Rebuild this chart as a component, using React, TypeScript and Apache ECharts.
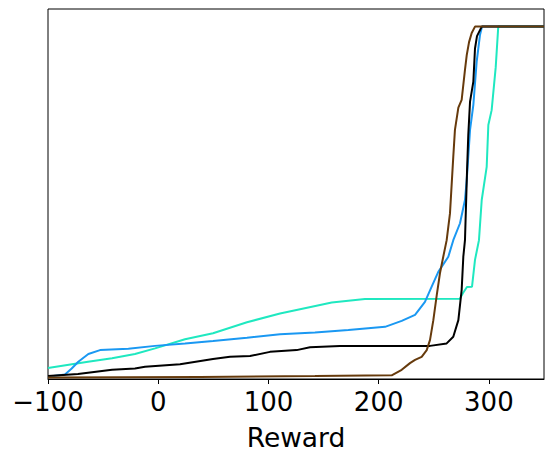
import React, { useEffect, useRef } from "react";
import * as echarts from "echarts";

// Reward values (x) and cumulative fraction (y) for each curve
const cyanX = [-100, -63.7, -41.9, -21.1, -2.9, 24.3, 49.7, 80.5, 110.5, 146.8, 157.4, 187.6, 273.8, 276.5, 280.1, 284.7, 287.4, 289.2, 291, 293.5, 298.0, 299.5, 302.5, 306.2, 308.5, 350];
const cyanY = [0.031, 0.049, 0.059, 0.071, 0.087, 0.113, 0.130, 0.161, 0.186, 0.210, 0.217, 0.227, 0.228, 0.244, 0.261, 0.262, 0.338, 0.366, 0.394, 0.508, 0.602, 0.721, 0.763, 0.885, 1.0, 1.0];

const blueX = [-100, -84.6, -78.5, -72.5, -63.4, -52.8, -27.1, -2.9, 24.3, 49.7, 80.5, 110.5, 142.2, 172.5, 205.8, 220.9, 233.0, 242.0, 248.1, 254.1, 263.2, 267.7, 273.8, 278.3, 279.9, 281.3, 282.9, 285.9, 288.9, 291.9, 293.8, 350];
const blueY = [0.0065, 0.013, 0.030, 0.049, 0.071, 0.082, 0.086, 0.094, 0.101, 0.108, 0.117, 0.127, 0.132, 0.139, 0.148, 0.165, 0.182, 0.219, 0.262, 0.304, 0.347, 0.394, 0.442, 0.508, 0.565, 0.631, 0.707, 0.778, 0.900, 0.976, 1.0, 1.0];

const blackX = [-100, -72.8, -41.9, -21.1, -12.0, 19.8, 49.7, 65.1, 83.3, 101.4, 125.6, 137.7, 164.9, 246.6, 261.7, 267.7, 272.3, 275.3, 276.8, 278.3, 280.2, 281.3, 282.9, 285.9, 287.4, 289.2, 293.5, 350];
const blackY = [0.0085, 0.014, 0.026, 0.030, 0.035, 0.042, 0.057, 0.063, 0.065, 0.077, 0.082, 0.090, 0.094, 0.094, 0.101, 0.120, 0.167, 0.253, 0.347, 0.394, 0.593, 0.692, 0.787, 0.844, 0.938, 0.973, 1.0, 1.0];

const brownX = [-100, 37.9, 142.2, 211.8, 220.9, 228.4, 233.0, 239.0, 243.6, 246.6, 249.6, 252.7, 255.6, 258.6, 261.7, 264.7, 267.7, 269.2, 272.3, 275.3, 278.3, 279.9, 282.0, 284.4, 287.4, 350];
const brownY = [0.004, 0.006, 0.0085, 0.0105, 0.026, 0.045, 0.054, 0.063, 0.082, 0.111, 0.167, 0.238, 0.300, 0.347, 0.394, 0.470, 0.631, 0.707, 0.770, 0.792, 0.877, 0.919, 0.956, 0.982, 1.0, 1.0];

const xTicks = [-100, 0, 100, 200, 300];

const curves = [
  { name: "cyan", xs: cyanX, ys: cyanY, color: "#1FE8C0" },
  { name: "blue", xs: blueX, ys: blueY, color: "#1A98F2" },
  { name: "black", xs: blackX, ys: blackY, color: "#000000" },
  { name: "brown", xs: brownX, ys: brownY, color: "#663A0C" },
];

const FONT = "DejaVu Sans";

export default function App() {
  const ref = useRef<HTMLDivElement>(null);
  useEffect(() => {
    if (!ref.current) return;
    const chart = echarts.init(ref.current, null, { renderer: "svg" });
    chart.setOption({
      animation: false,
      backgroundColor: "#ffffff",
      grid: {
        left: 48,
        top: 9,
        right: 10,
        bottom: 81,
        show: true,
        borderColor: "#000000",
        borderWidth: 1,
        backgroundColor: "transparent",
      },
      xAxis: {
        type: "value",
        min: -100,
        max: 350,
        interval: 100,
        name: "Reward",
        nameLocation: "middle",
        nameGap: 45,
        nameTextStyle: { fontFamily: FONT, fontSize: 26.5, color: "#000" },
        axisLine: { show: true, onZero: false, lineStyle: { color: "#000", width: 1 } },
        axisTick: {
          show: true,
          length: 5,
          lineStyle: { color: "#000", width: 1 },
          customValues: xTicks,
        },
        axisLabel: {
          fontFamily: FONT,
          fontSize: 26,
          color: "#000",
          margin: 10,
          customValues: xTicks,
          formatter: (v: number) => (v < 0 ? "\u2212" + Math.abs(v) : String(v)),
        },
        splitLine: { show: false },
      },
      yAxis: {
        type: "value",
        min: 0,
        max: 1.05,
        axisLine: { show: false },
        axisTick: { show: false },
        axisLabel: { show: false },
        splitLine: { show: false },
      },
      series: curves.map((c) => ({
        name: c.name,
        type: "line",
        showSymbol: false,
        symbol: "none",
        clip: true,
        data: c.xs.map((x, i) => [x, c.ys[i]]),
        lineStyle: { color: c.color, width: 2 },
        itemStyle: { color: c.color },
      })),
    });
    return () => chart.dispose();
  }, []);
  return (
    <div
      ref={ref}
      style={{ position: "absolute", left: 0, top: 0, width: 554, height: 460 }}
    />
  );
}
